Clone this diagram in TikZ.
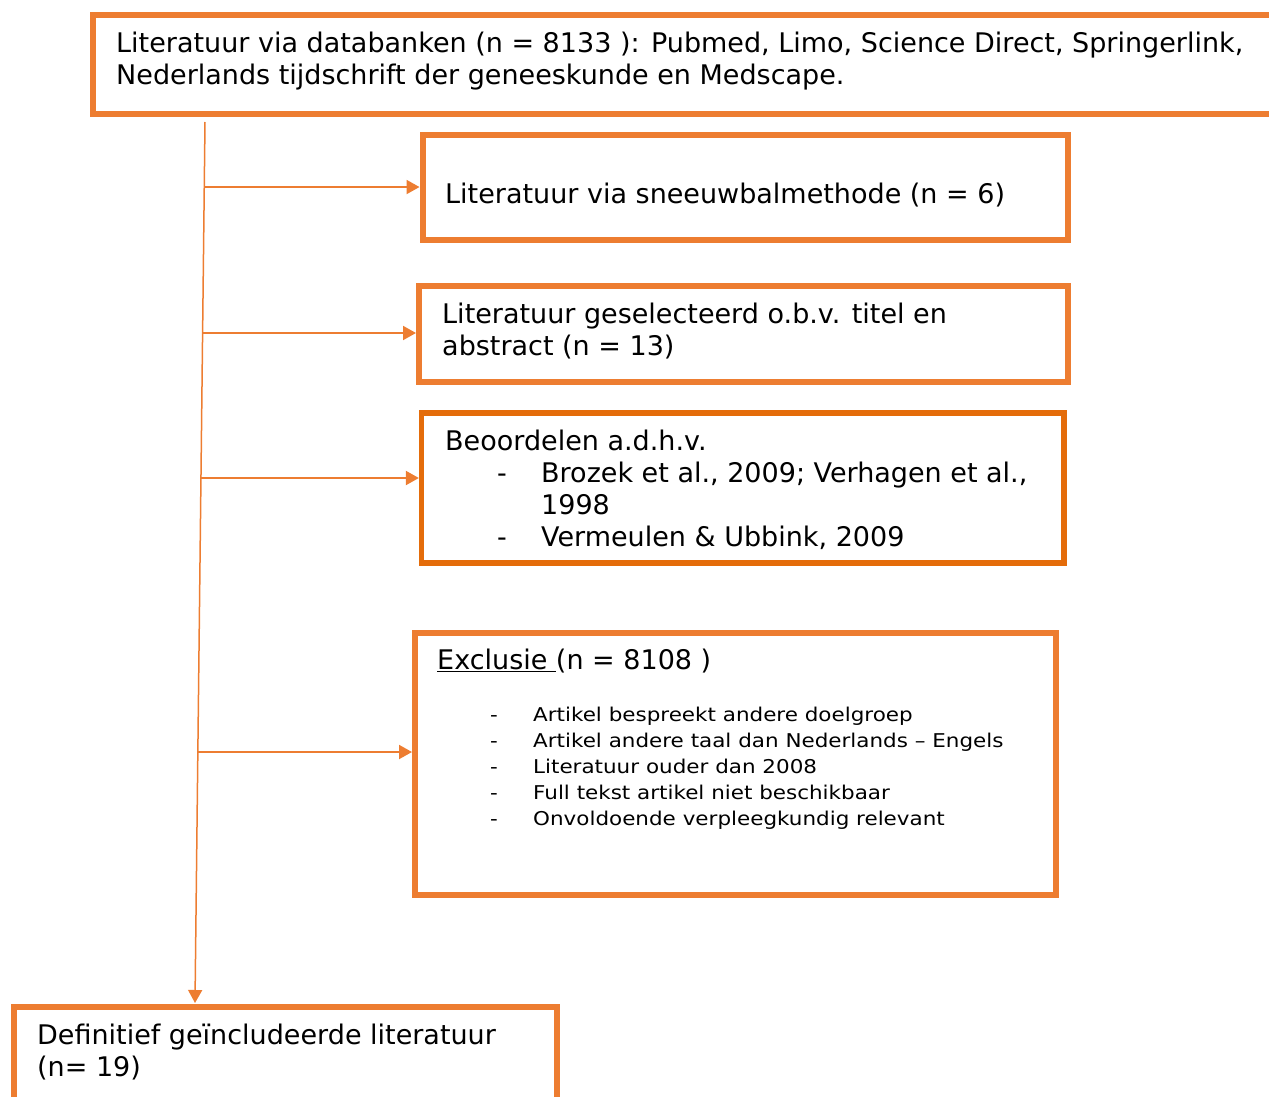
\documentclass[tikz,border=0pt]{standalone}
\usepackage{fontspec}
\setmainfont{DejaVu Sans}
\newfontfamily\listfont[FakeStretch=1.13]{DejaVu Sans}
\usetikzlibrary{calc,arrows.meta}
\definecolor{accent}{HTML}{ED7D31}
\definecolor{accentdark}{HTML}{E46C0A}
\tikzset{
  box/.style={draw=accent, line width=6pt, fill=white, rectangle, inner sep=0pt},
  txt/.style={anchor=base west, inner sep=0pt, align=left, text=black,
              font=\fontsize{27}{32}\selectfont},
  small/.style={txt, font=\listfont\fontsize{19}{26}\selectfont},
  conn/.style={draw=accent, line width=2pt, -{Triangle[length=13pt,width=14pt]}},
  spine/.style={draw=accent, line width=1.5pt, -{Triangle[length=13pt,width=14pt]}}
}
\begin{document}
\begin{tikzpicture}[x=1pt,y=-1pt]
\useasboundingbox (0,0) rectangle (1269,1097);

% boxes
\node[box, minimum width=1197pt, minimum height=98.5pt] (b1) at (691.5,64.75) {};
\node[box, minimum width=645.5pt, minimum height=104.7pt] (b2) at (745.25,187.35) {};
\node[box, minimum width=649pt, minimum height=96.5pt] (b3) at (743.5,333.75) {};
\node[box, draw=accentdark, line width=5.3pt, minimum width=642.5pt, minimum height=150pt] (b4) at (742.75,488) {};
\node[box, minimum width=641pt, minimum height=262pt] (b5) at (735.5,764) {};
\node[box, minimum width=543pt, minimum height=113.3pt] (b6) at (285.5,1063.35) {};

% texts (each placed by the baseline of its last line)
\node[txt] (t1) at (116,85) {Literatuur via databanken (n = 8133 ): Pubmed, Limo, Science Direct, Springerlink,\\
Nederlands tijdschrift der geneeskunde en Medscape.};
\node[txt] (t2) at (445,204) {Literatuur via sneeuwbalmethode (n = 6)};
\node[txt] (t3) at (442,355) {Literatuur geselecteerd o.b.v. titel en\\abstract (n = 13)};
\node[txt] (t4) at (445,546) {Beoordelen a.d.h.v.\\
\hspace*{52pt}\makebox[44pt][l]{-}Brozek et al., 2009; Verhagen et al.,\\
\hspace*{96pt}1998\\
\hspace*{52pt}\makebox[44pt][l]{-}Vermeulen \& Ubbink, 2009};
\node[txt] (t5) at (437,669) {\underline{Exclusie\ }(n = 8108 )};
\node[small] (t5l) at (437,825) {%
\hspace*{53pt}\makebox[43pt][l]{-}Artikel bespreekt andere doelgroep\\
\hspace*{53pt}\makebox[43pt][l]{-}Artikel andere taal dan Nederlands – Engels\\
\hspace*{53pt}\makebox[43pt][l]{-}Literatuur ouder dan 2008\\
\hspace*{53pt}\makebox[43pt][l]{-}Full tekst artikel niet beschikbaar\\
\hspace*{53pt}\makebox[43pt][l]{-}Onvoldoende verpleegkundig relevant};
\node[txt] (t6) at (37,1076) {Definitief geïncludeerde literatuur\\(n= 19)};

% spine and branches
\coordinate (s0) at (205,122);
\coordinate (s1) at (195,1003);
\draw[spine] (s0) -- (s1);
\coordinate (h1) at ($(s0)!0.0738!(s1)$);
\coordinate (h2) at ($(s0)!0.2395!(s1)$);
\coordinate (h3) at ($(s0)!0.4041!(s1)$);
\coordinate (h4) at ($(s0)!0.7151!(s1)$);
\draw[conn] (h1) -- (b2.west |- h1);
\draw[conn] (h2) -- (b3.west |- h2);
\draw[conn] (h3) -- (b4.west |- h3);
\draw[conn] (h4) -- (b5.west |- h4);
\end{tikzpicture}
\end{document}
